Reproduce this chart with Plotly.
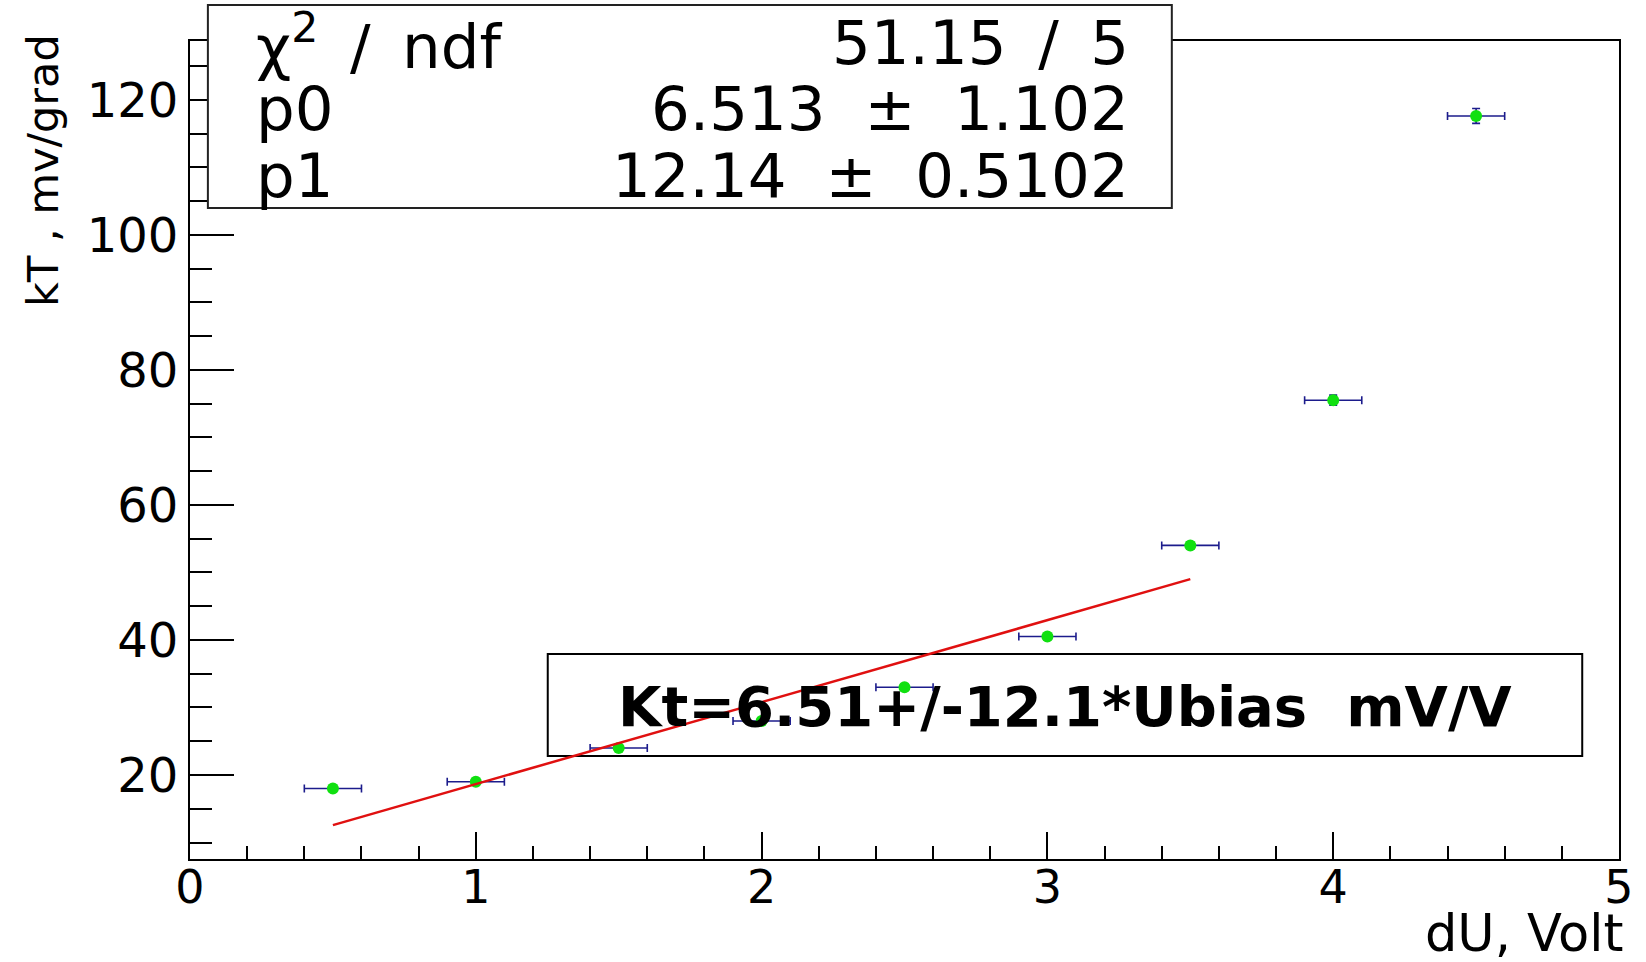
import plotly.graph_objects as go

# Measured temperature coefficient vs. bias voltage step
du_volt = [0.5, 1.0, 1.5, 2.0, 2.5, 3.0, 3.5, 4.0, 4.5]
kt_mv = [18.0, 19.0, 24.0, 28.0, 33.0, 40.5, 54.0, 75.5, 117.6]
du_err = [0.1, 0.1, 0.1, 0.1, 0.1, 0.1, 0.1, 0.1, 0.1]
kt_err = [0.2, 0.2, 0.25, 0.3, 0.35, 0.4, 0.55, 0.75, 1.1]

# Linear fit pol1: kT = p0 + p1 * dU, fitted over [0.5, 3.5]
p0, p0_err = 6.513, 1.102
p1, p1_err = 12.14, 0.5102
chi2, ndf = 51.15, 5
fit_range = [0.5, 3.5]

FONT = "DejaVu Sans"
THIN = "\u2009"

# plot-area geometry in pixels (used to place the boxes in paper coords)
W, H = 1646, 962
L, R, T, B = 190, 1628, 41, 859


def px(x):
    return (x - L) / (R - L)


def py(y):
    return (B - y) / (B - T)


fig = go.Figure()

fig.add_trace(go.Scatter(
    x=du_volt, y=kt_mv, mode="markers",
    marker=dict(color="#10e010", size=12, line=dict(width=0)),
    error_x=dict(type="data", array=du_err, color="#1c1c8c", thickness=1.6, width=4),
    error_y=dict(type="data", array=kt_err, color="#1c1c8c", thickness=1.6, width=4),
    hoverinfo="x+y",
))

fit_y = [p0 + p1 * x for x in fit_range]
fig.add_trace(go.Scatter(
    x=fit_range, y=fit_y, mode="lines",
    line=dict(color="#e01010", width=2.5),
    hoverinfo="skip",
))

axis_common = dict(
    ticks="inside", tickwidth=2, tickcolor="black",
    showline=True, linecolor="black", linewidth=2, mirror=True,
    showgrid=False, zeroline=False,
)

fig.update_xaxes(
    range=[0, 5], dtick=1, tick0=0, ticklen=27, ticklabelstandoff=-13,
    tickfont=dict(family=FONT, size=46, color="black"),
    minor=dict(dtick=0.2, ticklen=13, tickwidth=2, tickcolor="black",
               ticks="inside", showgrid=False),
    **axis_common,
)
fig.update_yaxes(
    range=[7.56, 128.7], dtick=20, tick0=0, ticklen=44, ticklabelstandoff=0,
    tickfont=dict(family=FONT, size=48, color="black"),
    minor=dict(dtick=5, ticklen=22, tickwidth=2, tickcolor="black",
               ticks="inside", showgrid=False),
    **axis_common,
)

# boxes: fit-statistics panel and the result label
fig.add_shape(type="rect", xref="paper", yref="paper",
              x0=px(550), x1=px(1591), y0=py(756), y1=py(654),
              line=dict(color="black", width=2), fillcolor="rgba(0,0,0,0)",
              layer="below")
fig.add_shape(type="rect", xref="paper", yref="paper",
              x0=px(208), x1=px(1178), y0=py(208), y1=py(5),
              line=dict(color="#222222", width=2), fillcolor="white",
              layer="above")

stat_rows = [
    (f"χ<sup>2</sup>{THIN} / {THIN}ndf", f"{chi2:.2f} {THIN}/{THIN} {ndf}", 42),
    ("p0", f"{p0:.3f}  ±  {p0_err:.3f}", 108),
    ("p1", f"{p1:.2f}  ±  {p1_err:.4f}", 175),
]
annotations = []
for name, val, yc in stat_rows:
    annotations.append(dict(
        text=name, xref="paper", yref="paper", x=px(254), y=py(yc),
        xanchor="left", yanchor="middle", showarrow=False,
        font=dict(family=FONT, size=61, color="black")))
    annotations.append(dict(
        text=val, xref="paper", yref="paper", x=px(1137), y=py(yc),
        xanchor="right", yanchor="middle", showarrow=False,
        font=dict(family=FONT, size=61, color="black")))

annotations.append(dict(
    text=f"<b>Kt={p0:.2f}+/-{p1:.1f}*Ubias  mV/V</b>",
    xref="paper", yref="paper", x=px(1071), y=py(706),
    xanchor="center", yanchor="middle", showarrow=False,
    font=dict(family=FONT, size=56, color="black")))

# axis titles (ROOT style: right/top aligned)
annotations.append(dict(
    text="dU, Volt", xref="paper", yref="paper", x=px(1634), y=py(933),
    xanchor="right", yanchor="middle", showarrow=False,
    font=dict(family=FONT, size=51, color="black")))
annotations.append(dict(
    text="kT , mv/grad", xref="paper", yref="paper", x=px(42), y=py(170),
    xanchor="center", yanchor="middle", textangle=-90, showarrow=False,
    font=dict(family=FONT, size=43, color="black")))

fig.update_layout(
    width=W, height=H,
    margin=dict(l=L, r=W - R, t=T, b=H - B, pad=0),
    plot_bgcolor="white", paper_bgcolor="white",
    showlegend=False,
    annotations=annotations,
)

fig.write_html("out.html")
